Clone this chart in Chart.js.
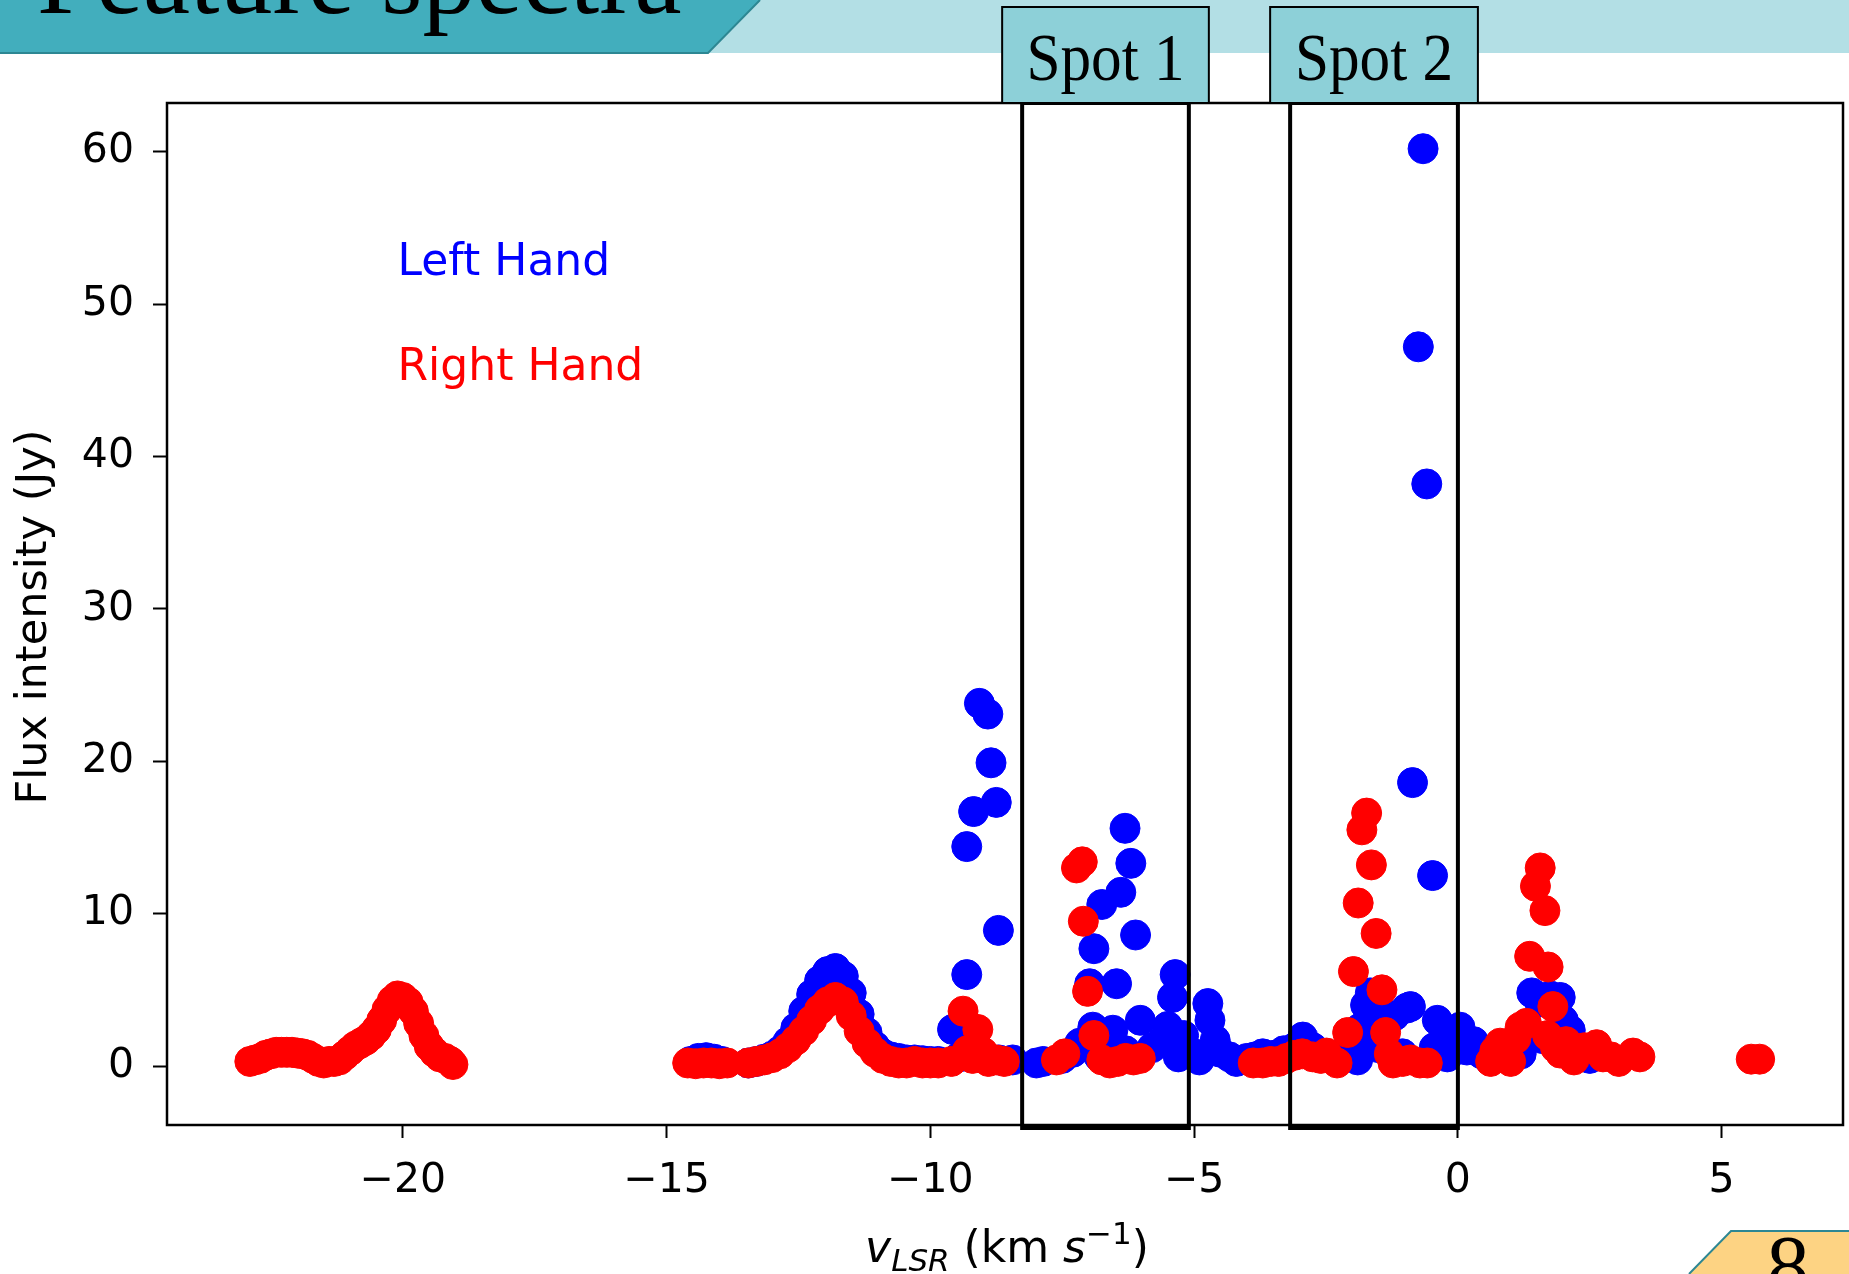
<!DOCTYPE html>
<html>
<head>
<meta charset="utf-8">
<title>Feature spectra</title>
<script src="https://cdn.jsdelivr.net/npm/chart.js@4.4.0/dist/chart.umd.min.js"></script>
<style>
  html, body { margin: 0; padding: 0; background: #fff; overflow: hidden; }
  #wrap { width: 1849px; height: 1274px; }
</style>
</head>
<body>
<div id="wrap"><canvas id="spectraChart" width="1849" height="1274"></canvas></div>
<script>
// [velocity km/s, flux Jy]
var leftHandPoints = [
  [-14.55, 0.3], [-14.4, 0.5], [-14.25, 0.55], [-14.1, 0.45], [-13.95, 0.3],
  [-13.45, 0.2], [-13.3, 0.3], [-13.15, 0.45], [-13.0, 0.65], [-12.85, 1.0], [-12.7, 1.6],
  [-12.55, 2.5], [-12.4, 3.6], [-12.25, 4.7], [-12.1, 5.6], [-11.95, 6.2], [-11.8, 6.4],
  [-11.65, 5.9], [-11.5, 4.8], [-11.35, 3.4], [-11.2, 2.2], [-11.05, 1.3], [-10.9, 0.8],
  [-10.75, 0.6], [-10.6, 0.5], [-10.45, 0.4], [-10.3, 0.4], [-10.15, 0.35], [-10.0, 0.3], [-9.85, 0.3],
  [-9.58, 2.4], [-9.45, 0.6], [-9.31, 6.0], [-9.31, 14.4], [-9.2, 0.8], [-9.18, 16.7],
  [-9.07, 23.8], [-8.95, 0.5], [-8.91, 23.1], [-8.85, 19.9], [-8.75, 17.3], [-8.71, 8.9],
  [-8.7, 0.4], [-8.44, 0.4],
  [-7.99, 0.2], [-7.86, 0.3], [-7.5, 0.5], [-7.3, 0.9], [-7.17, 1.5], [-6.98, 5.4], [-6.92, 2.55],
  [-6.9, 7.7], [-6.8, 0.6], [-6.75, 10.6], [-6.6, 0.8], [-6.54, 2.35], [-6.47, 5.4], [-6.39, 11.4],
  [-6.31, 15.6], [-6.3, 1.0], [-6.2, 13.3], [-6.11, 8.6], [-6.02, 3.0], [-5.8, 1.2], [-5.6, 1.7],
  [-5.5, 2.6], [-5.41, 4.5], [-5.36, 6.0], [-5.3, 0.6], [-5.2, 2.0],
  [-5.0, 0.8], [-4.9, 0.4], [-4.74, 4.1], [-4.7, 3.0], [-4.6, 1.7], [-4.5, 0.9], [-4.33, 0.6],
  [-4.2, 0.3], [-4.0, 0.5], [-3.85, 0.6], [-3.7, 0.8], [-3.5, 0.7], [-3.3, 1.0], [-3.1, 1.2],
  [-2.94, 1.9], [-2.75, 1.2], [-2.6, 0.8], [-2.4, 0.6], [-2.2, 0.8], [-2.0, 1.5], [-1.9, 0.4],
  [-1.85, 2.5], [-1.75, 4.0], [-1.66, 4.8], [-1.6, 3.8], [-1.5, 1.2], [-1.35, 2.8], [-1.2, 3.3],
  [-1.05, 0.8], [-0.97, 3.8], [-0.9, 3.9], [-0.86, 18.6], [-0.75, 47.2], [-0.66, 60.2],
  [-0.59, 38.2], [-0.48, 12.5], [-0.45, 1.2], [-0.39, 3.0], [-0.3, 1.5], [-0.2, 0.6],
  [0.04, 2.55], [0.17, 1.05], [0.3, 1.6], [0.45, 0.8], [0.6, 0.4], [1.0, 0.5], [1.1, 1.5],
  [1.2, 0.8], [1.4, 4.8], [1.55, 4.2], [1.6, 1.8], [1.75, 4.6], [1.94, 4.5], [2.0, 3.0],
  [2.13, 2.35], [2.3, 1.2], [2.5, 0.5]
];
var rightHandPoints = [
  [-22.9, 0.3], [-22.8, 0.4], [-22.7, 0.5], [-22.6, 0.7], [-22.5, 0.8], [-22.4, 0.9], [-22.3, 0.9],
  [-22.2, 0.9], [-22.1, 0.9], [-22.0, 0.85], [-21.9, 0.8], [-21.8, 0.7], [-21.7, 0.5], [-21.6, 0.3],
  [-21.5, 0.2], [-21.4, 0.3], [-21.3, 0.3], [-21.2, 0.4], [-21.1, 0.7], [-21.0, 1.0], [-20.9, 1.3],
  [-20.8, 1.5], [-20.7, 1.7], [-20.6, 2.0], [-20.5, 2.4], [-20.4, 3.0], [-20.3, 3.7], [-20.2, 4.3],
  [-20.1, 4.6], [-20.0, 4.5], [-19.9, 4.2], [-19.8, 3.6], [-19.7, 2.8], [-19.6, 2.0], [-19.5, 1.3],
  [-19.4, 0.9], [-19.3, 0.6], [-19.2, 0.5], [-19.1, 0.3], [-19.05, 0.1],
  [-14.6, 0.2], [-14.45, 0.15], [-14.3, 0.2], [-14.15, 0.2], [-14.0, 0.15], [-13.85, 0.2],
  [-13.45, 0.2], [-13.3, 0.3], [-13.15, 0.4], [-13.0, 0.55], [-12.85, 0.8], [-12.7, 1.2],
  [-12.55, 1.7], [-12.4, 2.3], [-12.25, 3.0], [-12.1, 3.7], [-11.95, 4.2], [-11.8, 4.5],
  [-11.65, 4.2], [-11.5, 3.3], [-11.35, 2.3], [-11.2, 1.5], [-11.05, 0.9], [-10.9, 0.5],
  [-10.75, 0.3], [-10.6, 0.2], [-10.45, 0.2], [-10.3, 0.3], [-10.15, 0.2], [-10.0, 0.2], [-9.85, 0.2],
  [-9.6, 0.3], [-9.38, 3.6], [-9.3, 1.0], [-9.2, 0.5], [-9.1, 2.4], [-9.0, 0.9], [-8.9, 0.3],
  [-8.75, 0.4], [-8.6, 0.3],
  [-7.61, 0.4], [-7.45, 0.8], [-7.23, 13.0], [-7.12, 13.4], [-7.1, 9.5], [-7.02, 4.9], [-6.9, 2.0],
  [-6.75, 0.4], [-6.6, 0.2], [-6.45, 0.3], [-6.3, 0.5], [-6.15, 0.4], [-6.02, 0.5],
  [-3.88, 0.2], [-3.7, 0.2], [-3.55, 0.3], [-3.4, 0.3], [-3.25, 0.5], [-3.1, 0.7], [-2.95, 0.8],
  [-2.75, 0.6], [-2.6, 0.5], [-2.49, 0.85], [-2.29, 0.2], [-2.09, 2.2], [-1.98, 6.2], [-1.89, 10.7],
  [-1.82, 15.5], [-1.73, 16.6], [-1.64, 13.2], [-1.55, 8.7], [-1.44, 5.0], [-1.37, 2.2], [-1.3, 0.8],
  [-1.23, 0.2], [-1.05, 0.3], [-0.9, 0.4], [-0.72, 0.2], [-0.58, 0.2],
  [0.62, 0.3], [0.7, 1.0], [0.8, 1.5], [0.9, 0.6], [1.0, 0.3], [1.1, 1.8], [1.18, 2.55], [1.3, 2.8],
  [1.36, 7.2], [1.47, 11.8], [1.56, 13.0], [1.65, 10.2], [1.71, 6.5], [1.8, 3.9], [1.7, 2.0],
  [1.85, 1.2], [1.94, 0.85], [2.05, 1.6], [2.2, 0.4], [2.4, 1.2], [2.63, 1.4], [2.75, 0.6],
  [2.9, 0.6], [3.05, 0.3], [3.32, 0.85], [3.45, 0.6],
  [5.56, 0.45], [5.72, 0.45]
];
var xTicks = [-20, -15, -10, -5, 0, 5];
var yTicks = [0, 10, 20, 30, 40, 50, 60];
var spotNames = ['Spot 1', 'Spot 2'];
var spotFrom = [-8.26, -3.18];
var spotTo = [-5.1, 0];

function toXY(list) {
  return list.map(function (p) { return { x: p[0], y: p[1] }; });
}
function minusLabel(v) {
  return v < 0 ? '\u2212' + Math.abs(v) : String(v);
}

// slide header, frame, spot boxes, texts
var slideDecor = {
  id: 'slideDecor',
  beforeDraw: function (chart) {
    var c = chart.ctx;
    c.save();
    c.fillStyle = '#ffffff';
    c.fillRect(0, 0, chart.width, chart.height);
    c.fillStyle = '#b3dfe5';
    c.fillRect(0, 0, chart.width, 53);
    c.beginPath();
    c.moveTo(0, 0); c.lineTo(760, 0); c.lineTo(708, 53); c.lineTo(0, 53); c.closePath();
    c.fillStyle = '#42aebd';
    c.fill();
    c.strokeStyle = '#2d8793'; c.lineWidth = 2;
    c.beginPath(); c.moveTo(0, 53); c.lineTo(708, 53); c.lineTo(760, 0); c.stroke();
    c.fillStyle = '#000';
    c.font = '106px "Liberation Serif"';
    c.textBaseline = 'alphabetic';
    c.fillText('Feature spectra', 37, 13);
    c.restore();
  },
  afterDatasetsDraw: function (chart) {
    var c = chart.ctx, a = chart.chartArea;
    var xs = chart.scales.x, ys = chart.scales.y;
    c.save();
    c.strokeStyle = '#000'; c.lineWidth = 2.5;
    c.strokeRect(a.left, a.top, a.right - a.left, a.bottom - a.top);

    c.font = '44px "DejaVu Sans"';
    c.textBaseline = 'alphabetic'; c.textAlign = 'left';
    c.fillStyle = '#0000ff';
    c.fillText('Left Hand', xs.getPixelForValue(-20.1), ys.getPixelForValue(51.9));
    c.fillStyle = '#ff0000';
    c.fillText('Right Hand', xs.getPixelForValue(-20.1), ys.getPixelForValue(45.0));

    for (var i = 0; i < spotNames.length; i++) {
      var x0 = xs.getPixelForValue(spotFrom[i]);
      var x1 = xs.getPixelForValue(spotTo[i]);
      c.strokeStyle = '#000'; c.lineWidth = 4;
      c.strokeRect(x0, a.top, x1 - x0, a.bottom + 3 - a.top);
      c.fillStyle = '#8dd0d8';
      c.fillRect(x0 - 20, 7, x1 - x0 + 40, a.top - 7);
      c.lineWidth = 2;
      c.strokeRect(x0 - 20, 7, x1 - x0 + 40, a.top - 7);
      c.save();
      c.translate((x0 + x1) / 2, 80);
      c.scale(0.9, 1);
      c.fillStyle = '#000';
      c.font = '68px "Liberation Serif"';
      c.textAlign = 'center';
      c.fillText(spotNames[i], 0, 0);
      c.restore();
    }

    // y axis title
    c.save();
    c.translate(35, 617);
    c.rotate(-Math.PI / 2);
    c.fillStyle = '#000';
    c.font = '43px "DejaVu Sans"';
    c.textAlign = 'center'; c.textBaseline = 'middle';
    c.fillText('Flux intensity (Jy)', 0, 0);
    c.restore();

    // x axis title with sub/superscripts
    var parts = [
      { t: 'v', f: 'italic 44px "DejaVu Sans"', dy: 0 },
      { t: 'LSR', f: 'italic 31px "DejaVu Sans"', dy: 9 },
      { t: ' (km ', f: '44px "DejaVu Sans"', dy: 0 },
      { t: 's', f: 'italic 44px "DejaVu Sans"', dy: 0 },
      { t: '\u22121', f: '31px "DejaVu Sans"', dy: -18 },
      { t: ')', f: '44px "DejaVu Sans"', dy: 0 }
    ];
    var total = 0;
    parts.forEach(function (p) { c.font = p.f; p.w = c.measureText(p.t).width; total += p.w; });
    var px = 1007 - total / 2;
    c.fillStyle = '#000'; c.textAlign = 'left'; c.textBaseline = 'alphabetic';
    parts.forEach(function (p) { c.font = p.f; c.fillText(p.t, px, 1262 + p.dy); px += p.w; });

    // page number tab
    c.beginPath();
    c.moveTo(1689, 1274); c.lineTo(1731, 1231); c.lineTo(1849, 1231); c.lineTo(1849, 1274); c.closePath();
    c.fillStyle = '#fdd383'; c.fill();
    c.strokeStyle = '#2d8793'; c.lineWidth = 2;
    c.beginPath(); c.moveTo(1689, 1274); c.lineTo(1731, 1231); c.lineTo(1849, 1231); c.stroke();
    c.fillStyle = '#000';
    c.font = '86px "Liberation Serif"';
    c.textAlign = 'center'; c.textBaseline = 'top';
    c.fillText('8', 1788, 1229);
    c.restore();
  }
};

var ctx = document.getElementById('spectraChart').getContext('2d');
var spectraChart = new Chart(ctx, {
  type: 'scatter',
  data: {
    datasets: [{
      label: 'Right Hand',
      data: toXY(rightHandPoints),
      backgroundColor: '#ff0000',
      borderColor: '#ff0000',
      borderWidth: 1,
      pointRadius: 15,
      pointHoverRadius: 15,
      order: 1
    }, {
      label: 'Left Hand',
      data: toXY(leftHandPoints),
      backgroundColor: '#0000ff',
      borderColor: '#0000ff',
      borderWidth: 1,
      pointRadius: 15,
      pointHoverRadius: 15,
      order: 2
    }]
  },
  options: {
    responsive: false,
    animation: false,
    devicePixelRatio: 1,
    events: [],
    layout: { autoPadding: false, padding: { top: 103, right: 6, bottom: 0, left: 0 } },
    plugins: { legend: { display: false }, tooltip: { enabled: false } },
    scales: {
      x: {
        type: 'linear', position: 'bottom', min: -24.47, max: 7.3,
        afterFit: function (s) { s.height = 149; s.paddingLeft = 0; s.paddingRight = 0; },
        afterBuildTicks: function (s) { s.ticks = xTicks.map(function (v) { return { value: v }; }); },
        ticks: { font: { family: 'DejaVu Sans', size: 41 }, color: '#000', padding: 19,
                 maxRotation: 0, autoSkip: false, callback: minusLabel },
        grid: { drawOnChartArea: false, drawTicks: true, tickLength: 13, tickWidth: 2, tickColor: '#000' },
        border: { display: false }
      },
      y: {
        type: 'linear', position: 'left', min: -3.87, max: 63.2,
        afterFit: function (s) { s.width = 167; s.paddingTop = 0; s.paddingBottom = 0; },
        afterBuildTicks: function (s) { s.ticks = yTicks.map(function (v) { return { value: v }; }); },
        ticks: { font: { family: 'DejaVu Sans', size: 41 }, color: '#000', padding: 19,
                 autoSkip: false, callback: minusLabel },
        grid: { drawOnChartArea: false, drawTicks: true, tickLength: 14, tickWidth: 2, tickColor: '#000' },
        border: { display: false }
      }
    }
  },
  plugins: [slideDecor]
});
</script>
</body>
</html>
